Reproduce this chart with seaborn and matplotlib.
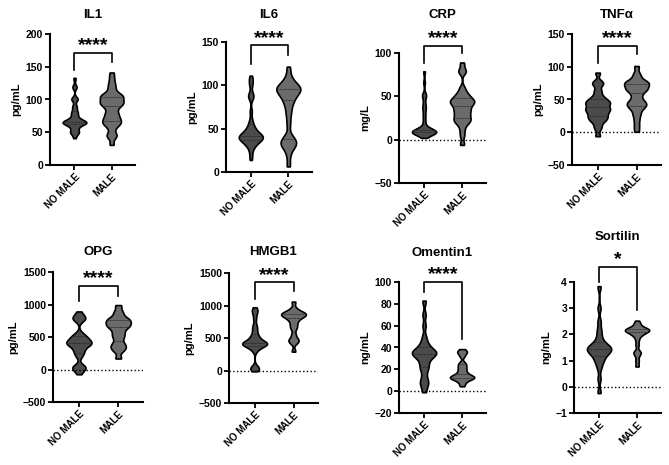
import pandas as pd
import matplotlib.pyplot as plt
import seaborn as sns

groups = ['NO MALE', 'MALE']

# values (approximate samples per group)
il1_no = [42, 48, 50, 50, 52, 56, 58, 60, 62, 63, 64, 64, 65, 65, 65, 66, 66, 67, 68, 70,
          72, 74, 78, 80, 82, 88, 90, 100, 100, 102, 118, 120, 132]
il1_male = [32, 42, 45, 48, 55, 60, 62, 64, 66, 68, 70, 72, 75, 78, 80, 84, 88, 90, 92, 94,
            95, 96, 98, 100, 102, 104, 105, 106, 108, 110, 115, 120, 125, 132, 140]
il6_no = [15, 22, 28, 30, 32, 34, 35, 36, 37, 38, 38, 39, 40, 40, 41, 42, 42, 43, 44, 45,
          46, 48, 50, 52, 55, 60, 70, 85, 88, 90, 100, 105, 110]
il6_male = [8, 20, 28, 30, 32, 34, 36, 38, 42, 55, 65, 72, 78, 82, 85, 88, 90, 92, 94, 95,
            96, 97, 98, 100, 102, 105, 110, 120]
crp_no = [3, 5, 6, 7, 7, 8, 8, 8, 9, 9, 9, 9, 10, 10, 10, 11, 11, 12, 13, 15, 20, 25, 30,
          35, 38, 42, 48, 52, 52, 66, 78]
crp_male = [-5, 5, 12, 18, 20, 22, 24, 25, 28, 30, 32, 34, 36, 38, 40, 42, 43, 44, 45, 46,
            48, 50, 52, 55, 60, 78, 80, 88]
tnf_no = [-5, 5, 10, 15, 18, 20, 22, 24, 26, 28, 30, 32, 34, 35, 36, 38, 40, 42, 44, 45,
          46, 48, 50, 52, 55, 60, 65, 72, 75, 78, 90]
tnf_male = [2, 10, 18, 25, 30, 35, 38, 40, 42, 44, 46, 48, 52, 56, 60, 63, 65, 66, 68, 70,
            72, 74, 75, 76, 78, 80, 85, 90, 100]
opg_no = [-60, 0, 20, 40, 60, 200, 250, 280, 320, 350, 380, 390, 400, 410, 420, 440, 460,
          480, 500, 520, 560, 750, 780, 800, 820, 880]
opg_male = [180, 280, 320, 350, 380, 420, 480, 520, 560, 600, 640, 660, 680, 700, 720, 740,
            760, 780, 800, 850, 900, 980]
hmgb1_no = [0, 20, 40, 60, 300, 340, 360, 380, 390, 400, 405, 410, 415, 420, 430, 440, 450,
            470, 500, 520, 550, 600, 650, 700, 800, 880, 920, 960]
hmgb1_male = [300, 420, 450, 470, 500, 560, 640, 680, 720, 760, 790, 810, 830, 840, 850,
              860, 870, 880, 890, 900, 920, 960, 1050]
oment_no = [0, 5, 8, 10, 15, 20, 22, 25, 28, 30, 32, 33, 34, 35, 35, 36, 37, 38, 40, 42,
            45, 50, 60, 70, 82]
oment_male = [5, 8, 10, 11, 12, 12, 13, 13, 14, 15, 16, 18, 20, 22, 24, 26, 32, 35, 36, 38]
sort_no = [-0.2, 0.3, 0.7, 0.9, 1.0, 1.1, 1.2, 1.25, 1.3, 1.35, 1.4, 1.42, 1.45, 1.5, 1.52,
           1.55, 1.6, 1.7, 1.8, 2.0, 2.2, 2.5, 3.0, 3.8]
sort_male = [0.8, 1.0, 1.2, 1.3, 1.35, 1.6, 1.8, 1.95, 2.0, 2.05, 2.1, 2.12, 2.15, 2.15,
             2.18, 2.2, 2.2, 2.25, 2.3, 2.4, 2.5]

titles = ['IL1', 'IL6', 'CRP', 'TNFα', 'OPG', 'HMGB1', 'Omentin1', 'Sortilin']
units = ['pg/mL', 'pg/mL', 'mg/L', 'pg/mL', 'pg/mL', 'pg/mL', 'ng/mL', 'ng/mL']
series = [(il1_no, il1_male), (il6_no, il6_male), (crp_no, crp_male), (tnf_no, tnf_male),
          (opg_no, opg_male), (hmgb1_no, hmgb1_male), (oment_no, oment_male),
          (sort_no, sort_male)]
yticks = [[0, 50, 100, 150, 200], [0, 50, 100, 150], [-50, 0, 50, 100],
          [-50, 0, 50, 100, 150], [-500, 0, 500, 1000, 1500], [-500, 0, 500, 1000, 1500],
          [-20, 0, 20, 40, 60, 80, 100], [-1, 0, 1, 2, 3, 4]]
stars = ['****', '****', '****', '****', '****', '****', '****', '*']
# bracket: top, left leg end, right leg end
brackets = [(171, 145, 157), (146, 125, 135), (108, 88, 100), (132, 105, 120),
            (1285, 1054, 1131), (1357, 1100, 1223), (100, 91, 48), (4.58, 4.0, 2.93)]

# axes boxes in pixels: left, right, top, bottom
boxes = [(50, 135, 34, 165), (226, 312, 42, 172), (399, 486, 53, 183), (572, 661, 34, 165),
         (53, 143, 272, 402), (229, 318, 273, 403), (399, 486, 282, 413), (574, 661, 282, 413)]
title_y = [15, 15, 15, 15, 252, 252, 253, 237]

W, H = 669, 465
plt.rcParams['font.family'] = ['Liberation Sans', 'DejaVu Sans']
plt.rcParams['font.weight'] = 'bold'
fig = plt.figure(figsize=(W / 100, H / 100), dpi=100)

for i in range(8):
    l, r, t, b = boxes[i]
    ax = fig.add_axes([l / W, 1 - b / H, (r - l) / W, (b - t) / H])
    no, male = series[i]
    df = pd.DataFrame({'group': ['NO MALE'] * len(no) + ['MALE'] * len(male),
                       'value': list(no) + list(male)})
    sns.violinplot(data=df, x='group', y='value', hue='group', order=groups,
                   palette=['#4b4b4b', '#6b6b6b'], legend=False, ax=ax,
                   inner='quart', cut=0.3, bw_adjust=0.32, width=0.64,
                   density_norm='width', linewidth=1.2, linecolor='black',
                   inner_kws=dict(color='#2a2a2a', linewidth=0.6), saturation=1)
    ax.set_xlim(-0.66, 1.63)
    yt = yticks[i]
    ax.set_ylim(yt[0], yt[-1])
    ax.set_yticks(yt)
    ax.set_xlabel('')
    ax.set_ylabel(units[i], fontsize=8, fontweight='bold', labelpad=3)
    ax.set_xticks([0, 1])
    ax.set_xticklabels(groups, rotation=45, ha='right', rotation_mode='anchor',
                       fontsize=7, fontweight='bold')
    for lab in ax.get_yticklabels():
        lab.set_fontsize(7.5)
        lab.set_fontweight('bold')
    for s in ['top', 'right']:
        ax.spines[s].set_visible(False)
    for s in ['left', 'bottom']:
        ax.spines[s].set_linewidth(1.5)
    ax.tick_params(width=1.3, length=3.5, pad=1.5)
    if yt[0] < 0:
        ax.axhline(0, color='black', linestyle=':', linewidth=1)
    top, lb, rb = brackets[i]
    ax.plot([0, 0, 1, 1], [lb, top, top, rb], color='black', linewidth=1.2,
            clip_on=False)
    ax.annotate(stars[i], xy=(0.5, top), xytext=(0, -1), textcoords='offset points',
                ha='center', va='bottom', fontsize=14, fontweight='bold',
                annotation_clip=False)
    fig.text((l + r) / 2 / W, 1 - title_y[i] / H, titles[i], ha='center', va='center',
             fontsize=9.5, fontweight='bold')

plt.savefig('out.png', dpi=100)
